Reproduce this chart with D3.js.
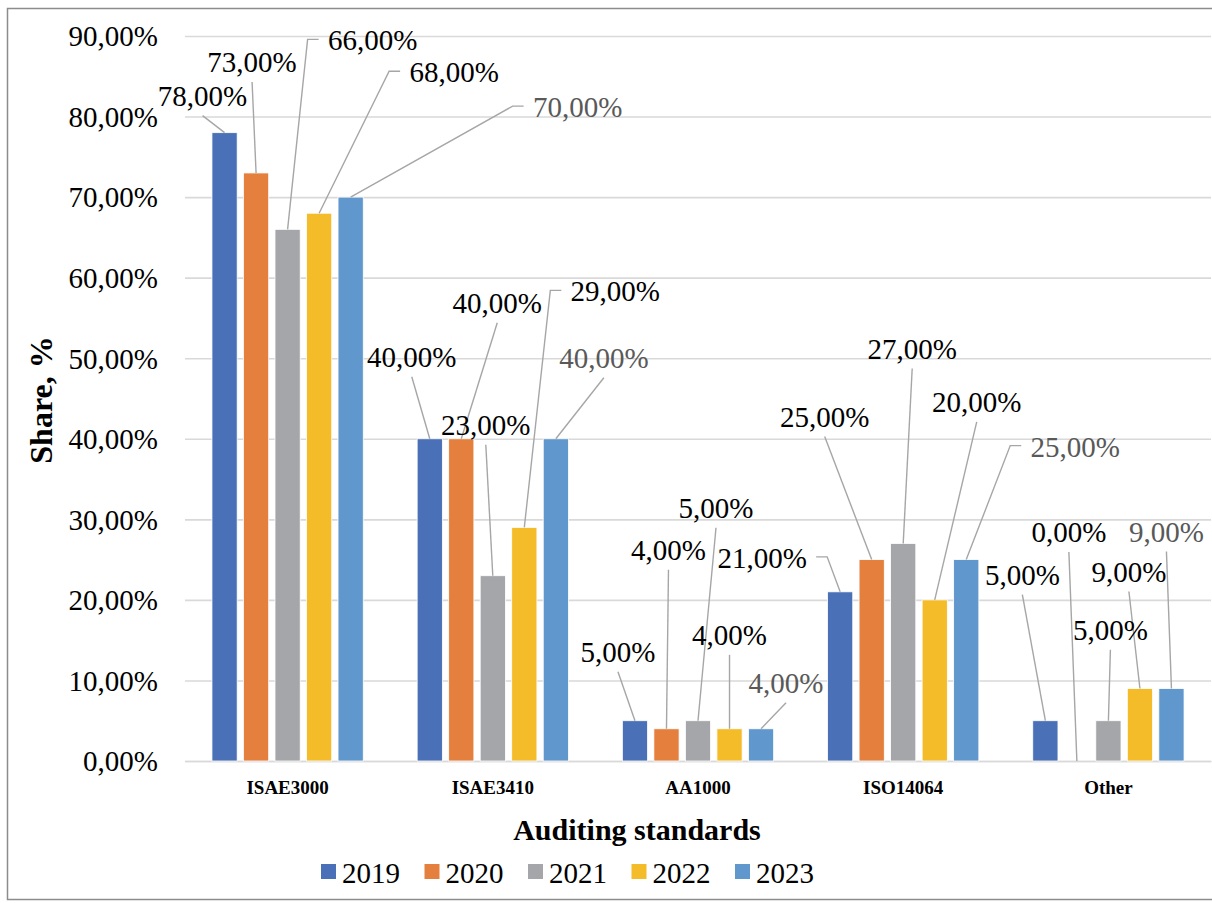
<!doctype html>
<html>
  <head>
    <meta charset="utf-8">
    <script src="https://cdn.jsdelivr.net/npm/d3@7"></script>
  </head>
  <body style="margin:0;overflow:hidden;background:#fff">
    <svg id="chart" width="1212" height="903"></svg>
    <script>
      // data
      var categories = ["ISAE3000", "ISAE3410", "AA1000", "ISO14064", "Other"];
      var years = ["2019", "2020", "2021", "2022", "2023"];
      var v2019 = [0.78, 0.40, 0.05, 0.21, 0.05];
      var v2020 = [0.73, 0.40, 0.04, 0.25, 0.00];
      var v2021 = [0.66, 0.23, 0.05, 0.27, 0.05];
      var v2022 = [0.68, 0.29, 0.04, 0.20, 0.09];
      var v2023 = [0.70, 0.40, 0.04, 0.25, 0.09];
      var yTicks = [0, 0.1, 0.2, 0.3, 0.4, 0.5, 0.6, 0.7, 0.8, 0.9];

      var series = [v2019, v2020, v2021, v2022, v2023];
      var colors = ["#4a70b7", "#e57f3d", "#a5a6a9", "#f5bc2a", "#6097cc"];

      // hand-placed data labels (offset from bar top, px) and leader style
      // b = leader from under the label, l = elbow on the left, r = elbow on the right
      var labelPlace = [
        [[-22, -27, "b"], [-18, -72, "b"], [-17, -59, "b"], [-78, -24, "r"], [-23, -136, "b"]],
        [[-4, -101, "b"], [36, -126, "b"], [2, -169, "b"], [-47, -133, "b"], [-8, -219, "b"]],
        [[85, -179, "l"], [-7, -141, "b"], [18, -203, "b"], [9, -185, "b"], [2, -81, "b"]],
        [[135, -131, "l"], [91, -226, "l"], [0, -84, "b"], [42, -188, "b"], [-11, -107, "b"]],
        [[227, -80, "l"], [48, -71, "b"], [25, -36, "b"], [109, -103, "l"], [-5, -147, "b"]]
      ];

      var W = 1212, H = 903;
      var plotL = 185, plotR = 1211, plotT = 36, plotB = 761;
      var serif = "'Liberation Serif'";

      var svg = d3.select("#chart").style("font-family", serif);

      // outer frame
      svg.append("rect")
        .attr("x", 7.5).attr("y", 8.5)
        .attr("width", W).attr("height", 891)
        .attr("fill", "#fff").attr("stroke", "#8c8c8c").attr("stroke-width", 1.5);

      var x0 = d3.scaleBand().domain(categories).range([plotL, plotR]).padding(0);
      var x1 = d3.scaleBand().domain(years).range([0, x0.bandwidth()])
        .paddingInner(0.2).paddingOuter(0.855);
      var y = d3.scaleLinear().domain([0, 0.9]).range([plotB, plotT]);

      var fmt = function(d) { return (d * 100).toFixed(2).replace(".", ",") + "%"; };

      // y axis + gridlines
      var gy = svg.append("g")
        .attr("transform", "translate(" + plotL + ",0)")
        .call(d3.axisLeft(y).tickValues(yTicks).tickFormat(fmt)
          .tickSize(-(plotR - plotL)).tickPadding(27));
      gy.attr("font-family", null).attr("font-size", null);
      gy.select(".domain").remove();
      gy.selectAll(".tick line").attr("stroke", "#d9d9d9").attr("stroke-width", 1.6);
      gy.selectAll(".tick text")
        .style("font-family", serif).attr("font-size", 29)
        .attr("fill", "#000").attr("dy", "0.34em");

      // x axis
      var gx = svg.append("g")
        .attr("transform", "translate(0," + plotB + ")")
        .call(d3.axisBottom(x0).tickSize(0).tickPadding(20));
      gx.attr("font-family", null).attr("font-size", null);
      gx.select(".domain").attr("stroke", "#d9d9d9").attr("stroke-width", 1.6);
      gx.selectAll(".tick text")
        .style("font-family", serif).attr("font-size", 19)
        .attr("font-weight", "bold").attr("fill", "#000");

      // bars
      var groups = svg.append("g").selectAll("g")
        .data(categories).join("g")
        .attr("transform", function(c) { return "translate(" + x0(c) + ",0)"; });

      groups.selectAll("rect")
        .data(function(c, ci) {
          return years.map(function(yr, si) { return {yr: yr, si: si, ci: ci, v: series[si][ci]}; });
        })
        .join("rect")
        .attr("x", function(d) { return x1(d.yr); })
        .attr("width", x1.bandwidth())
        .attr("y", function(d) { return y(d.v); })
        .attr("height", function(d) { return plotB - y(d.v); })
        .attr("fill", function(d) { return colors[d.si]; })
        .attr("stroke", "#fff").attr("stroke-width", 0.8);

      // data labels with leader lines
      var labels = [];
      series.forEach(function(vals, si) {
        vals.forEach(function(v, ci) {
          var p = labelPlace[si][ci];
          var bx = x0(categories[ci]) + x1(years[si]) + x1.bandwidth() / 2;
          var by = y(v);
          labels.push({v: v, si: si, bx: bx, by: by, cx: bx + p[0], base: by + p[1], kind: p[2]});
        });
      });

      var lab = svg.append("g");
      lab.selectAll("path")
        .data(labels).join("path")
        .attr("fill", "none").attr("stroke", "#a6a6a6").attr("stroke-width", 1.4)
        .attr("d", function(d) {
          var w = d.v < 0.1 ? 38 : 46;
          if (d.kind === "b") {
            return "M" + d.cx + "," + (d.base + 10) + "L" + d.bx + "," + d.by;
          }
          var my = d.base - 11;
          if (d.kind === "l") {
            var lx = d.cx - w - 8;
            return "M" + lx + "," + my + "H" + (lx - 11) + "L" + d.bx + "," + d.by;
          }
          var rx = d.cx + w + 8;
          return "M" + rx + "," + my + "H" + (rx + 11) + "L" + d.bx + "," + d.by;
        });

      lab.selectAll("text")
        .data(labels).join("text")
        .attr("x", function(d) { return d.cx; })
        .attr("y", function(d) { return d.base; })
        .attr("text-anchor", "middle")
        .style("font-family", serif).attr("font-size", 29)
        .attr("fill", function(d) { return d.si === 4 ? "#595959" : "#000"; })
        .text(function(d) { return fmt(d.v); });

      // axis titles
      svg.append("text")
        .attr("x", 637).attr("y", 840)
        .attr("text-anchor", "middle")
        .style("font-family", serif).attr("font-size", 30).attr("font-weight", "bold")
        .text("Auditing standards");

      svg.append("text")
        .attr("transform", "translate(52,400) rotate(-90)")
        .attr("text-anchor", "middle")
        .style("font-family", serif).attr("font-size", 32).attr("font-weight", "bold")
        .text("Share, %");

      // legend
      var leg = svg.append("g").selectAll("g")
        .data(years).join("g")
        .attr("transform", function(d, i) { return "translate(" + (321 + i * 103.5) + ",864)"; });
      leg.append("rect")
        .attr("width", 15).attr("height", 15)
        .attr("fill", function(d, i) { return colors[i]; });
      leg.append("text")
        .attr("x", 21).attr("y", 19)
        .style("font-family", serif).attr("font-size", 29)
        .text(function(d) { return d; });
    </script>
  </body>
</html>
